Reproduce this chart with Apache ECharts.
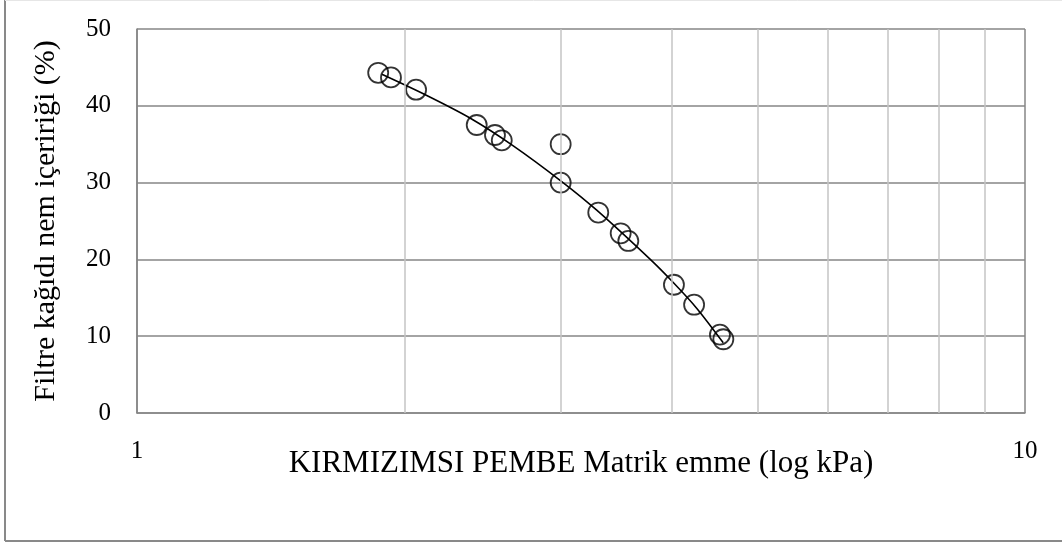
<!DOCTYPE html>
<html>
<head>
<meta charset="utf-8">
<script src="https://cdn.jsdelivr.net/npm/echarts@6/dist/echarts.min.js"></script>
<style>
  html, body { margin: 0; padding: 0; background: #ffffff; }
  #chart { width: 1062px; height: 545px; }
</style>
</head>
<body>
<div id="chart"></div>
<script>
// Matric suction (kPa) and filter paper water content (%) measurements
const suction = [1.869, 1.932, 2.062, 2.413, 2.53, 2.575, 3.0, 3.0, 3.307, 3.505, 3.575, 4.024, 4.24, 4.534, 4.574];
const moisture = [44.3, 43.7, 42.1, 37.5, 36.2, 35.5, 35.0, 30.0, 26.1, 23.4, 22.4, 16.7, 14.1, 10.2, 9.6];

// Trend curve through the measurements
const trendSuction = [1.887, 2.12, 2.371, 2.653, 3.008, 3.294, 3.782, 4.017, 4.268, 4.573];
const trendMoisture = [44.1, 41.34, 38.41, 34.79, 30.14, 26.41, 20.03, 16.99, 13.65, 9.14];

// Minor decade lines on the log axis
const minorLines = [2, 3, 4, 5, 6, 7, 8, 9];

const yTicks = { min: 0, max: 50, interval: 10 };
const xRange = { min: 1, max: 10 };

const xTitle = 'KIRMIZIMSI PEMBE Matrik emme (log kPa)';
const yTitle = 'Filtre kağıdı nem içeririği (%)';

const FONT = '"Liberation Serif", "DejaVu Serif", serif';

const chart = echarts.init(document.getElementById('chart'), null, { renderer: 'canvas' });

const points = suction.map((s, i) => [s, moisture[i]]);
const trend = trendSuction.map((s, i) => [s, trendMoisture[i]]);

chart.setOption({
  backgroundColor: '#ffffff',
  animation: false,
  grid: { left: 137, right: 37, top: 29, bottom: 132 },
  xAxis: {
    type: 'log',
    logBase: 10,
    min: xRange.min,
    max: xRange.max,
    name: xTitle,
    nameLocation: 'middle',
    nameGap: 35,
    nameMoveOverlap: false,
    nameTextStyle: { fontFamily: FONT, fontSize: 31, color: '#000000' },
    axisLine: { show: true, lineStyle: { color: '#868686', width: 1.5 } },
    axisTick: { show: false },
    axisLabel: { fontFamily: FONT, fontSize: 25, color: '#000000', margin: 26 },
    splitLine: { show: true, lineStyle: { color: '#868686', width: 1.5 } }
  },
  yAxis: {
    type: 'value',
    min: yTicks.min,
    max: yTicks.max,
    interval: yTicks.interval,
    name: yTitle,
    nameLocation: 'middle',
    nameRotate: 90,
    nameGap: 76,
    nameTextStyle: { fontFamily: FONT, fontSize: 30, color: '#000000' },
    axisLine: { show: true, lineStyle: { color: '#868686', width: 1.5 } },
    axisTick: { show: false },
    axisLabel: { fontFamily: FONT, fontSize: 25, color: '#000000', margin: 26 },
    splitLine: { show: true, lineStyle: { color: '#868686', width: 1.5 } }
  },
  graphic: [
    { type: 'line', silent: true, shape: { x1: 5, y1: 0, x2: 5, y2: 541 }, style: { stroke: '#898989', lineWidth: 2 } },
    { type: 'line', silent: true, shape: { x1: 5, y1: 541, x2: 1062, y2: 541 }, style: { stroke: '#898989', lineWidth: 2 } },
    { type: 'line', silent: true, shape: { x1: 5, y1: 0.5, x2: 1062, y2: 0.5 }, style: { stroke: '#e6e6e6', lineWidth: 1 } }
  ],
  series: [
    {
      type: 'line',
      name: 'grid',
      data: [],
      silent: true,
      markLine: {
        silent: true,
        symbol: 'none',
        label: { show: false },
        lineStyle: { color: '#c4c4c4', width: 1.5, type: 'solid' },
        data: minorLines.map(v => ({ xAxis: v }))
      },
      z: 1
    },
    {
      type: 'line',
      name: 'trend',
      data: trend,
      smooth: 0.3,
      showSymbol: false,
      lineStyle: { color: '#000000', width: 1.6 },
      z: 3
    },
    {
      type: 'scatter',
      name: 'data',
      data: points,
      symbol: 'circle',
      symbolSize: 20,
      itemStyle: { color: 'rgba(255,255,255,0)', borderColor: '#000000', borderWidth: 1.8 },
      z: 4
    }
  ]
});
</script>
</body>
</html>
